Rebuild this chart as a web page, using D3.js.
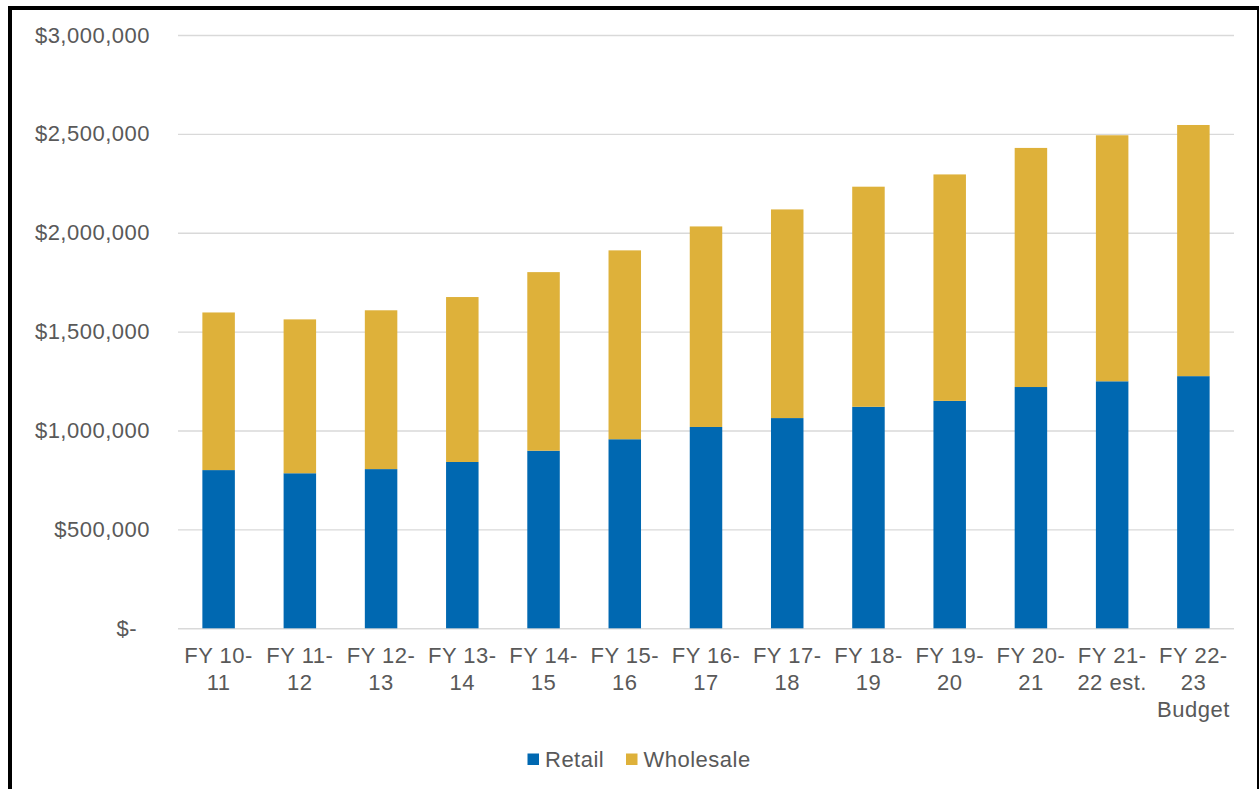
<!DOCTYPE html>
<html>
<head>
<meta charset="utf-8">
<script src="https://cdn.jsdelivr.net/npm/d3@7"></script>
<style>
  html, body { margin: 0; padding: 0; background: #fff; }
  svg { display: block; font-family: "Liberation Sans", Arial, sans-serif; }
  text { letter-spacing: 0.5px; }
</style>
</head>
<body>
<svg id="chart" width="1259" height="789"></svg>
<script>
// ---- data ----
const categories = [
  ["FY 10-", "11"],
  ["FY 11-", "12"],
  ["FY 12-", "13"],
  ["FY 13-", "14"],
  ["FY 14-", "15"],
  ["FY 15-", "16"],
  ["FY 16-", "17"],
  ["FY 17-", "18"],
  ["FY 18-", "19"],
  ["FY 19-", "20"],
  ["FY 20-", "21"],
  ["FY 21-", "22 est."],
  ["FY 22-", "23", "Budget"]
];
const seriesNames = ["Retail", "Wholesale"];
const retail    = [800000, 784000, 805000, 841000, 898000, 956000, 1018000, 1063000, 1120000, 1150000, 1220000, 1249000, 1275000];
const wholesale = [797000, 778000, 803000, 834000, 903000, 955000, 1014000, 1055000, 1113000, 1145000, 1209000, 1244000, 1270000];
const yTicks = [0, 500000, 1000000, 1500000, 2000000, 2500000, 3000000];
const colors = ["#0068B1", "#DEB13A"];

// ---- layout ----
const svg = d3.select("#chart");
const plot = { left: 178, right: 1234, top: 35, bottom: 628.3 };
const textColor = "#595959";
const fontSize = 22;

const keys = categories.map(c => c.join(" "));
const rows = keys.map((k, i) => ({ key: k, Retail: retail[i], Wholesale: wholesale[i] }));

const x = d3.scaleBand().domain(keys).range([plot.left, plot.right]).padding(0);
const y = d3.scaleLinear().domain([0, 3000000]).range([plot.bottom, plot.top]);
const barW = x.bandwidth() * 0.4;

// frame
svg.append("line").attr("x1", 10).attr("x2", 10).attr("y1", 6).attr("y2", 789)
  .attr("stroke", "#000").attr("stroke-width", 4);
svg.append("line").attr("x1", 8).attr("x2", 1259).attr("y1", 8).attr("y2", 8)
  .attr("stroke", "#000").attr("stroke-width", 4);
svg.append("line").attr("x1", 1258).attr("x2", 1258).attr("y1", 6).attr("y2", 789)
  .attr("stroke", "#000").attr("stroke-width", 2);

// y axis with gridlines
const yAxis = d3.axisLeft(y)
  .tickValues(yTicks)
  .tickSizeInner(-(plot.right - plot.left))
  .tickSizeOuter(0)
  .tickPadding(28)
  .tickFormat(d => d === 0 ? "$-" : "$" + d3.format(",")(d));

const gy = svg.append("g").attr("transform", `translate(${plot.left},0)`).call(yAxis);
gy.select(".domain").remove();
gy.selectAll(".tick line").attr("stroke", "#D9D9D9").attr("stroke-width", 1.4);
gy.selectAll(".tick text")
  .attr("fill", textColor)
  .attr("font-size", fontSize)
  .attr("font-family", "Liberation Sans, Arial, sans-serif")
  .attr("dx", d => d === 0 ? -13 : 0);

// stacked bars
const stack = d3.stack().keys(seriesNames);
const stacked = stack(rows);

svg.append("g").selectAll("g")
  .data(stacked)
  .join("g")
  .attr("fill", (d, i) => colors[i])
  .selectAll("rect")
  .data(d => d)
  .join("rect")
  .attr("x", d => x(d.data.key) + (x.bandwidth() - barW) / 2)
  .attr("width", barW)
  .attr("y", d => y(d[1]))
  .attr("height", d => y(d[0]) - y(d[1]));

// x labels
const xl = svg.append("g");
categories.forEach((lines, i) => {
  const cx = x(keys[i]) + x.bandwidth() / 2;
  const t = xl.append("text")
    .attr("text-anchor", "middle")
    .attr("fill", textColor)
    .attr("font-size", fontSize);
  lines.forEach((ln, j) => {
    t.append("tspan").attr("x", cx).attr("y", 663.3 + j * 26.7).text(ln);
  });
});

// legend
const legendItems = [
  { name: seriesNames[0], color: colors[0], sx: 527.5, tx: 545 },
  { name: seriesNames[1], color: colors[1], sx: 626, tx: 643.5 }
];
const lg = svg.append("g");
legendItems.forEach(it => {
  lg.append("rect").attr("x", it.sx).attr("y", 753.5).attr("width", 11.5).attr("height", 11.5).attr("fill", it.color);
  lg.append("text").attr("x", it.tx).attr("y", 766.7).attr("fill", textColor)
    .attr("font-size", fontSize).text(it.name);
});
</script>
</body>
</html>
